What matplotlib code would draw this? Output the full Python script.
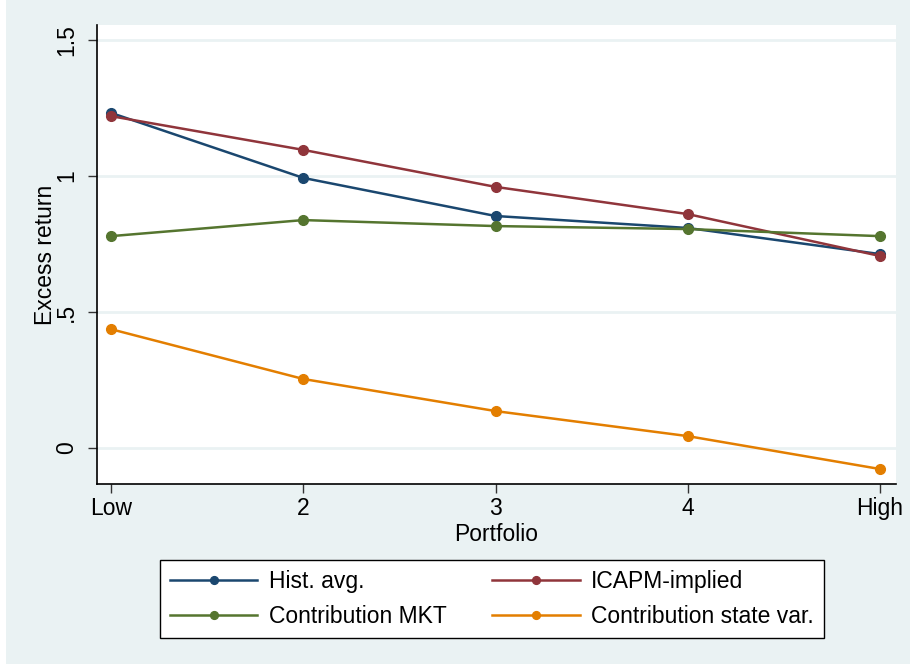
import matplotlib.pyplot as plt
from matplotlib.patches import Rectangle

plt.rcParams['font.family'] = ['Liberation Sans', 'DejaVu Sans']

# portfolios Low..High
portfolio = [1, 2, 3, 4, 5]
portfolio_labels = ['Low', '2', '3', '4', 'High']

hist_avg = [1.232, 0.993, 0.853, 0.809, 0.713]
icapm = [1.220, 1.096, 0.960, 0.860, 0.706]
contrib_mkt = [0.779, 0.838, 0.816, 0.805, 0.779]
contrib_state = [0.437, 0.254, 0.136, 0.044, -0.077]

yticks = [0, 0.5, 1, 1.5]
ytick_labels = ['0', '.5', '1', '1.5']

bg = '#EAF2F3'
fs = 16.5
fig = plt.figure(figsize=(9.1, 6.64), dpi=100, facecolor=bg)
# thin white strip on the left edge
fig.patches.append(Rectangle((0, 0), 6 / 910, 1, transform=fig.transFigure,
                             facecolor='white', edgecolor='none', zorder=-1))

ax = fig.add_axes([97 / 910, 1 - 484 / 664, 799 / 910, 459 / 664])
ax.set_facecolor('white')

styles = [
    (hist_avg, 'Hist. avg.', '#1a476f'),
    (icapm, 'ICAPM-implied', '#90353b'),
    (contrib_mkt, 'Contribution MKT', '#55752f'),
    (contrib_state, 'Contribution state var.', '#e37e00'),
]
lines = []
for vals, lab, col in styles:
    ln, = ax.plot(portfolio, vals, color=col, lw=1.8, marker='o', ms=7, label=lab)
    lines.append(ln)

ax.set_xlim(0.927, 5.083)
ax.set_ylim(-0.132, 1.555)
ax.set_xticks(portfolio)
ax.set_xticklabels(portfolio_labels)
ax.set_yticks(yticks)
ax.set_yticklabels(ytick_labels, rotation=90, va='center')
ax.grid(axis='y', color=bg, lw=2)
ax.set_axisbelow(True)

for s in ['top', 'right']:
    ax.spines[s].set_visible(False)
for s in ['left', 'bottom']:
    ax.spines[s].set_color('black')
    ax.spines[s].set_linewidth(1.2)

ax.tick_params(axis='both', direction='out', length=6.5, width=1,
               color='#333333', labelsize=fs)
ax.tick_params(axis='y', pad=7)
ax.tick_params(axis='x', pad=3)
ax.set_ylabel('Excess return', fontsize=fs, labelpad=-1)
ax.set_xlabel('Portfolio', fontsize=fs, labelpad=2)

# row-wise order like the original: Hist/ICAPM on top, MKT/state below
order = [0, 2, 1, 3]
leg = fig.legend([lines[i] for i in order], [styles[i][1] for i in order],
                 loc='upper left', ncol=2, markerscale=0.8,
                 bbox_to_anchor=(160 / 910, 1 - 560 / 664), borderaxespad=0,
                 fontsize=fs, frameon=True, fancybox=False, framealpha=1,
                 edgecolor='black', handlelength=3.8, handletextpad=0.5,
                 labelspacing=0.5, borderpad=0.45, columnspacing=2.0)
leg.get_frame().set_linewidth(1.0)

fig.savefig('out.png', dpi=100, facecolor=bg)
